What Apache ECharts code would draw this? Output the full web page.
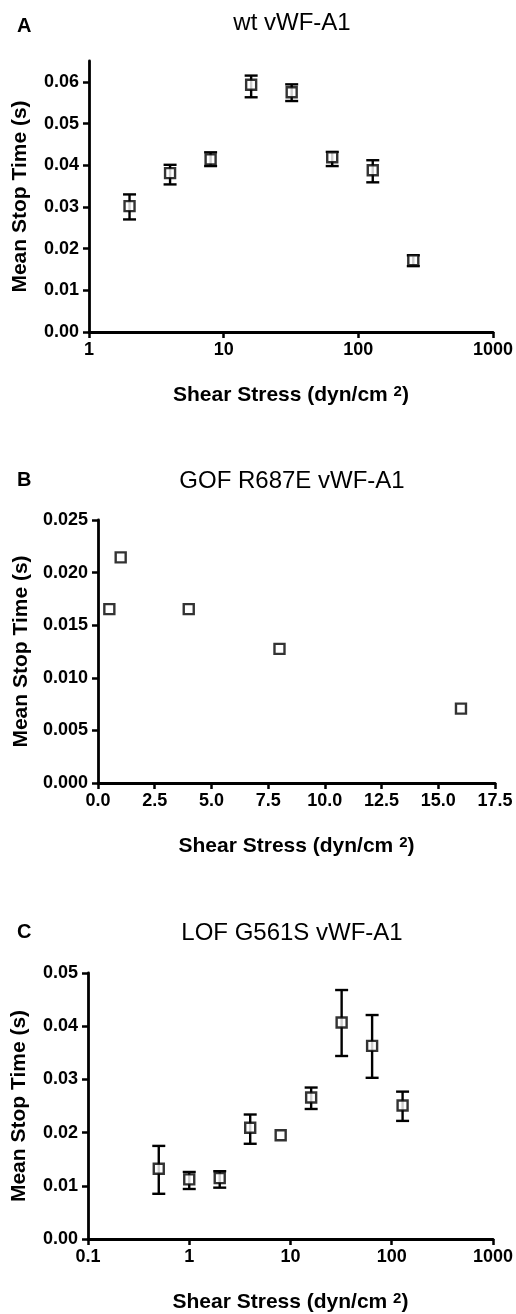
<!DOCTYPE html>
<html>
<head>
<meta charset="utf-8">
<script src="https://cdn.jsdelivr.net/npm/echarts@6/dist/echarts.min.js"></script>
<style>
html,body{margin:0;padding:0;background:#fff;}
#chart{width:516px;height:1314px;}
</style>
</head>
<body>
<div id="chart"></div>
<script>
// Panel A: wt vWF-A1
var aX = [2, 4, 8, 16, 32, 64, 128, 256];
var aY = [0.0302, 0.0381, 0.0414, 0.0593, 0.0575, 0.0419, 0.0388, 0.0172];
var aLow = [0.0270, 0.0354, 0.0398, 0.0563, 0.0554, 0.0398, 0.0359, 0.0158];
var aHigh = [0.0330, 0.0401, 0.0431, 0.0615, 0.0594, 0.0432, 0.0412, 0.0184];
// Panel B: GOF R687E vWF-A1
var bX = [0.5, 1, 4, 8, 16];
var bY = [0.01653, 0.02145, 0.01653, 0.01275, 0.00707];
// Panel C: LOF G561S vWF-A1
var cX = [0.5, 1, 2, 4, 8, 16, 32, 64, 128];
var cY = [0.0132, 0.0112, 0.01145, 0.0209, 0.0195, 0.0266, 0.0407, 0.0363, 0.0251];
var cLow = [0.0085, 0.0094, 0.00965, 0.0179, null, 0.02444, 0.0344, 0.0303, 0.0222];
var cHigh = [0.0175, 0.0126, 0.01275, 0.0234, null, 0.02847, 0.0468, 0.0421, 0.0277];
// Tick labels
var aYTicks = [0, 0.01, 0.02, 0.03, 0.04, 0.05, 0.06];
var bYTicks = [0, 0.005, 0.010, 0.015, 0.020, 0.025];
var cYTicks = [0, 0.01, 0.02, 0.03, 0.04, 0.05];
var titles = ['wt vWF-A1', 'GOF R687E vWF-A1', 'LOF G561S vWF-A1'];
var letters = ['A', 'B', 'C'];
var yTitle = 'Mean Stop Time (s)';

var FONT = 'Liberation Sans, Arial, sans-serif';

function pts(xs, ys) { return xs.map(function (x, i) { return [x, ys[i]]; }); }
function errs(xs, lo, hi) {
  var out = [];
  xs.forEach(function (x, i) { if (lo[i] != null) out.push([x, lo[i], hi[i]]); });
  return out;
}
function errRender(params, api) {
  var x = api.value(0);
  var lo = api.coord([x, api.value(1)]);
  var hi = api.coord([x, api.value(2)]);
  var hw = 6.5;
  var st = { stroke: '#000', lineWidth: 2.4 };
  return {
    type: 'group',
    children: [
      { type: 'line', shape: { x1: lo[0], y1: lo[1], x2: hi[0], y2: hi[1] }, style: st },
      { type: 'line', shape: { x1: lo[0] - hw, y1: lo[1], x2: lo[0] + hw, y2: lo[1] }, style: st },
      { type: 'line', shape: { x1: hi[0] - hw, y1: hi[1], x2: hi[0] + hw, y2: hi[1] }, style: st }
    ]
  };
}
var axisLineStyle = { lineStyle: { color: '#000', width: 2.8 } };
var tickStyle = { show: true, length: 6, lineStyle: { color: '#000', width: 2.5 } };
var labelBase = { color: '#000', fontSize: 18, fontWeight: 'bold', fontFamily: FONT };
var nameStyle = {
  color: '#000', fontSize: 21, fontWeight: 'bold', fontFamily: FONT,
  rich: { sup: { fontSize: 15, fontWeight: 'bold', fontFamily: FONT, verticalAlign: 'top', color: '#000', padding: [0, 0, 8, 0] } }
};
var xName = 'Shear Stress (dyn/cm {sup|2})';

function yAx(idx, max, ticks, dec) {
  return {
    type: 'value', gridIndex: idx, min: 0, max: max,
    splitLine: { show: false },
    axisLine: axisLineStyle,
    axisTick: Object.assign({ customValues: ticks }, tickStyle),
    axisLabel: Object.assign({ customValues: ticks, margin: 10, formatter: function (v) { return v.toFixed(dec); } }, labelBase),
    name: yTitle, nameLocation: 'middle', nameGap: 58, nameTextStyle: nameStyle
  };
}
function xAxLog(idx, min, max) {
  return {
    type: 'log', logBase: 10, gridIndex: idx, min: min, max: max,
    splitLine: { show: false }, minorTick: { show: false },
    axisLine: Object.assign({ onZero: false }, axisLineStyle),
    axisTick: tickStyle,
    axisLabel: Object.assign({ margin: 9, formatter: function (v) { return String(v); } }, labelBase),
    name: xName, nameLocation: 'middle', nameGap: 52, nameTextStyle: nameStyle
  };
}

var chart = echarts.init(document.getElementById('chart'), null, { renderer: 'canvas' });
var titleTops = [6, 464, 916];
var letterTops = [11, 465, 917];
var titleOpts = [];
for (var i = 0; i < 3; i++) {
  titleOpts.push({ text: titles[i], left: 287, top: titleTops[i], textAlign: 'center',
    textStyle: { fontSize: 24, fontWeight: 'normal', color: '#000', fontFamily: FONT } });
  titleOpts.push({ text: letters[i], left: 12, top: letterTops[i],
    textStyle: { fontSize: 20, fontWeight: 'bold', color: '#000', fontFamily: FONT } });
}

var scatterStyle = { color: '#fff', borderColor: '#000', borderWidth: 2.4 };

chart.setOption({
  animation: false,
  backgroundColor: '#fff',
  title: titleOpts,
  grid: [
    { left: 89, right: 22, top: 61, height: 271 },
    { left: 98, right: 21, top: 520, height: 263 },
    { left: 88, right: 22, top: 973, height: 270 }
  ],
  xAxis: [
    xAxLog(0, 1, 1000),
    {
      type: 'value', gridIndex: 1, min: 0, max: 17.5, interval: 2.5,
      splitLine: { show: false },
      axisLine: Object.assign({ onZero: false }, axisLineStyle),
      axisTick: tickStyle,
      axisLabel: Object.assign({ margin: 9, formatter: function (v) { return v.toFixed(1); } }, labelBase),
      name: xName, nameLocation: 'middle', nameGap: 52, nameTextStyle: nameStyle
    },
    xAxLog(2, 0.1, 1000)
  ],
  yAxis: [
    yAx(0, 0.065, aYTicks, 2),
    yAx(1, 0.025, bYTicks, 3),
    yAx(2, 0.05, cYTicks, 2)
  ],
  series: [
    { type: 'custom', xAxisIndex: 0, yAxisIndex: 0, renderItem: errRender, data: errs(aX, aLow, aHigh), z: 2 },
    { type: 'scatter', xAxisIndex: 0, yAxisIndex: 0, symbol: 'rect', symbolSize: 10, itemStyle: scatterStyle, data: pts(aX, aY), z: 3 },
    { type: 'scatter', xAxisIndex: 1, yAxisIndex: 1, symbol: 'rect', symbolSize: 10, itemStyle: scatterStyle, data: pts(bX, bY), z: 3 },
    { type: 'custom', xAxisIndex: 2, yAxisIndex: 2, renderItem: errRender, data: errs(cX, cLow, cHigh), z: 2 },
    { type: 'scatter', xAxisIndex: 2, yAxisIndex: 2, symbol: 'rect', symbolSize: 10, itemStyle: scatterStyle, data: pts(cX, cY), z: 3 }
  ]
});
</script>
</body>
</html>
